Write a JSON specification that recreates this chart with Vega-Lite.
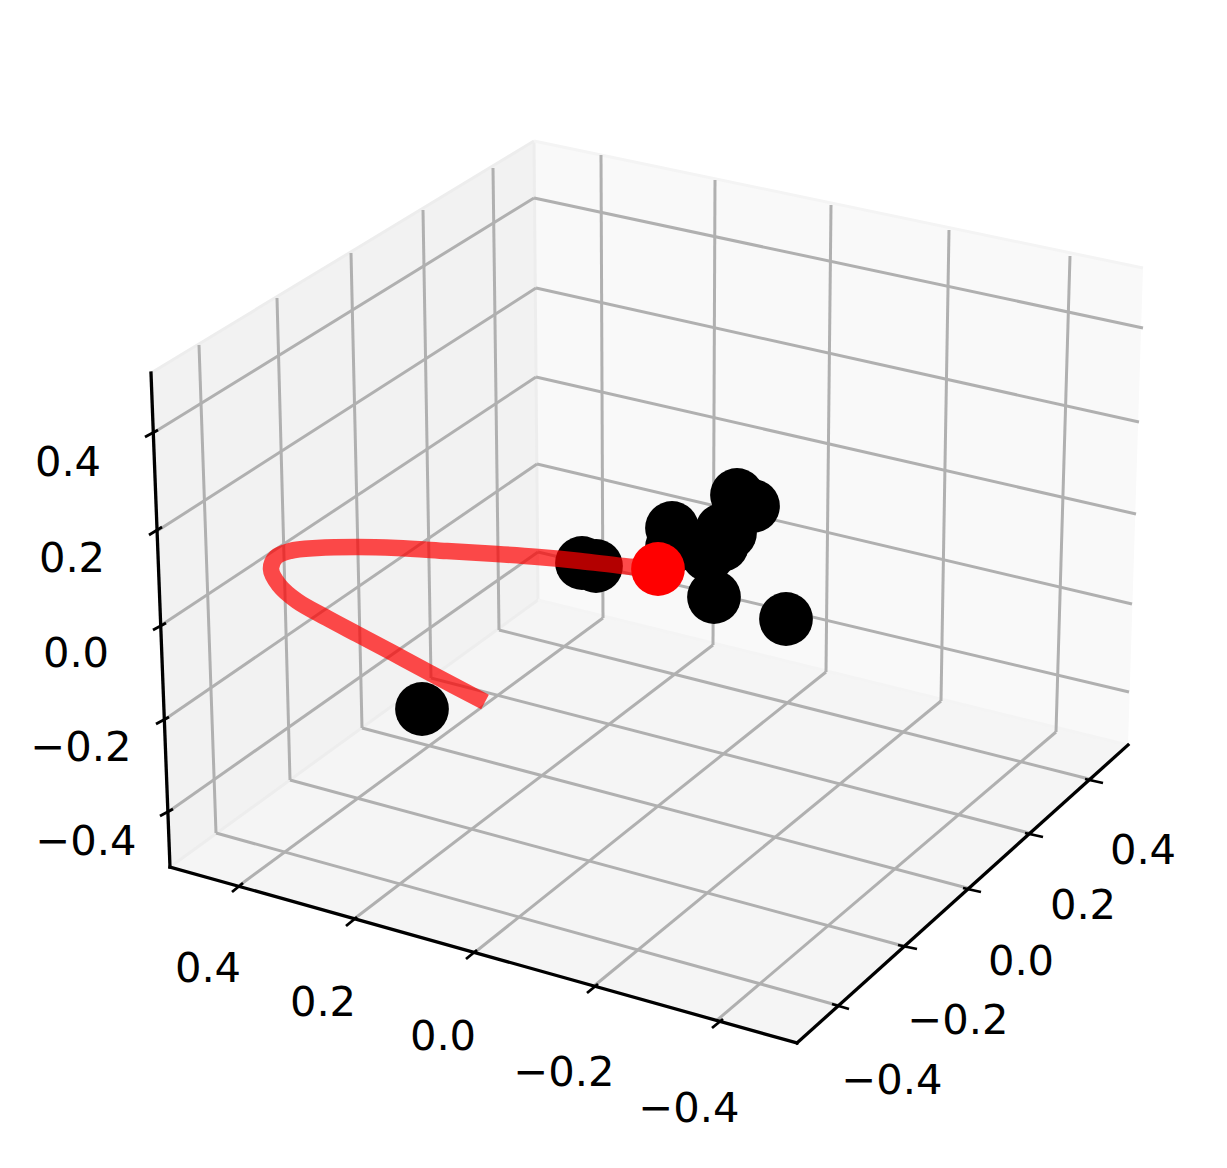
{
"$schema":"https://vega.github.io/schema/vega-lite/v6.json",
"width":1227,"height":1168,"padding":0,
"autosize":{"type":"fit","contains":"padding"},
"background":"white",
"config":{"view":{"stroke":null}},
"datasets":{
"panes":[
{"pane":"left","u":151,"v":373,"v2":373},{"pane":"left","u":170,"v":361.5,"v2":867},{"pane":"left","u":534,"v":141,"v2":602.9},{"pane":"left","u":538,"v":600,"v2":600},
{"pane":"right","u":534,"v":141,"v2":141},{"pane":"right","u":538,"v":141.8,"v2":600},{"pane":"right","u":1128,"v":264.9,"v2":745},{"pane":"right","u":1143,"v":268,"v2":268},
{"pane":"floor","u":170,"v":867,"v2":867},{"pane":"floor","u":538,"v":600,"v2":970.3},{"pane":"floor","u":797,"v":663.7,"v2":1043},{"pane":"floor","u":1128,"v":745,"v2":745}
],
"edges":[
{"u":151,"v":373,"u2":534,"v2":141},{"u":534,"v":141,"u2":538,"v2":600},{"u":170,"v":867,"u2":538,"v2":600}
],
"edgesLight":[
{"u":534,"v":141,"u2":1143,"v2":268},{"u":538,"v":600,"u2":1128,"v2":745}
],
"grid":[
{"u":199,"v":345,"u2":216,"v2":833},{"u":277,"v":298,"u2":290,"v2":780},{"u":351,"v":253,"u2":362,"v2":728},{"u":423,"v":210,"u2":431,"v2":678},{"u":493,"v":168,"u2":499,"v2":630},
{"u":153,"v":433,"u2":534,"v2":198},{"u":157,"v":531,"u2":536,"v2":288},{"u":160,"v":626,"u2":536,"v2":377},{"u":164,"v":720,"u2":537,"v2":464},{"u":168,"v":812,"u2":538,"v2":552},
{"u":534,"v":198,"u2":1143,"v2":328},{"u":536,"v":288,"u2":1139,"v2":422},{"u":536,"v":377,"u2":1136,"v2":514},{"u":537,"v":464,"u2":1132,"v2":604},{"u":538,"v":552,"u2":1129,"v2":692},
{"u":601,"v":155,"u2":603,"v2":618},{"u":715,"v":180,"u2":713,"v2":645},{"u":831,"v":205,"u2":826,"v2":672},{"u":949,"v":230,"u2":941,"v2":701},{"u":1070,"v":256,"u2":1056,"v2":732},
{"u":216,"v":833,"u2":840,"v2":1006},{"u":290,"v":780,"u2":907,"v2":947},{"u":362,"v":728,"u2":971,"v2":889},{"u":431,"v":678,"u2":1033,"v2":834},{"u":499,"v":630,"u2":1093,"v2":780},
{"u":240,"v":885,"u2":603,"v2":618},{"u":354,"v":919,"u2":713,"v2":645},{"u":474,"v":953,"u2":826,"v2":672},{"u":594,"v":986,"u2":941,"v2":701},{"u":716,"v":1021,"u2":1056,"v2":732}
],
"axes":[
{"u":151,"v":373,"u2":170,"v2":867},{"u":170,"v":867,"u2":797,"v2":1043},{"u":797,"v":1043,"u2":1128,"v2":745}
],
"ticks":[
{"u":145,"v":437,"u2":158,"v2":430},{"u":149,"v":535,"u2":162,"v2":527},{"u":153,"v":630,"u2":166,"v2":623},{"u":156,"v":724,"u2":169,"v2":717},{"u":160,"v":816,"u2":173,"v2":809},
{"u":232,"v":892,"u2":243,"v2":883},{"u":346,"v":926,"u2":357,"v2":917},{"u":466,"v":959,"u2":477,"v2":950},{"u":587,"v":993,"u2":598,"v2":984},{"u":712,"v":1028,"u2":723,"v2":1019},
{"u":1085,"v":779,"u2":1103,"v2":783},{"u":1025,"v":833,"u2":1043,"v2":837},{"u":963,"v":888,"u2":981,"v2":892},{"u":898,"v":945,"u2":917,"v2":949},{"u":832,"v":1004,"u2":849,"v2":1009}
],
"labels":[
{"u":68,"v":463,"t":"0.4"},{"u":72,"v":559,"t":"0.2"},{"u":76,"v":654,"t":"0.0"},{"u":81,"v":748,"t":"−0.2"},{"u":86,"v":842,"t":"−0.4"},
{"u":208,"v":969,"t":"0.4"},{"u":323,"v":1003,"t":"0.2"},{"u":443,"v":1037,"t":"0.0"},{"u":564,"v":1073,"t":"−0.2"},{"u":689,"v":1109,"t":"−0.4"},
{"u":1143,"v":851,"t":"0.4"},{"u":1083,"v":906,"t":"0.2"},{"u":1021,"v":962,"t":"0.0"},{"u":958,"v":1021,"t":"−0.2"},{"u":892,"v":1081,"t":"−0.4"}
],
"points":[
{"u":422,"v":709},{"u":582,"v":563},{"u":596,"v":566},{"u":672,"v":528},{"u":672,"v":547},{"u":737,"v":495},{"u":753,"v":506},{"u":722,"v":530},{"u":730,"v":533},{"u":722,"v":545},{"u":708,"v":555},{"u":714,"v":597},{"u":786,"v":619}
],
"path":[
{"i":0,"u":485,"v":702},{"i":1,"u":430,"v":673},{"i":2,"u":393,"v":653},{"i":3,"u":357,"v":634},{"i":4,"u":327,"v":618},{"i":5,"u":297,"v":601},{"i":6,"u":279,"v":585},{"i":7,"u":271,"v":569},{"i":8,"u":276,"v":557},{"i":9,"u":290,"v":551},{"i":10,"u":317,"v":548},{"i":11,"u":357,"v":547},{"i":12,"u":397,"v":548},{"i":13,"u":447,"v":551},{"i":14,"u":497,"v":554},{"i":15,"u":538,"v":557},{"i":16,"u":580,"v":561},{"i":17,"u":623,"v":566},{"i":18,"u":658,"v":569}
],
"head":[{"u":658,"v":569}]
},
"layer":[
{"data":{"name":"panes"},"mark":{"type":"area","interpolate":"linear","opacity":1},
 "encoding":{"x":{"field":"u","type":"quantitative","scale":{"domain":[0,1227],"nice":false,"zero":false},"axis":null},
 "y":{"field":"v","type":"quantitative","scale":{"domain":[1168,0],"nice":false,"zero":false},"axis":null,"stack":null},
 "y2":{"field":"v2"},
 "color":{"field":"pane","type":"nominal","scale":{"domain":["left","right","floor"],"range":["#f2f2f2","#f9f9f9","#f5f5f5"]},"legend":null}}},
{"data":{"name":"edges"},"mark":{"type":"rule","color":"#ededed","strokeWidth":3},
 "encoding":{"x":{"field":"u","type":"quantitative"},"y":{"field":"v","type":"quantitative"},"x2":{"field":"u2"},"y2":{"field":"v2"}}},
{"data":{"name":"edgesLight"},"mark":{"type":"rule","color":"#f4f4f4","strokeWidth":3},
 "encoding":{"x":{"field":"u","type":"quantitative"},"y":{"field":"v","type":"quantitative"},"x2":{"field":"u2"},"y2":{"field":"v2"}}},
{"data":{"name":"grid"},"mark":{"type":"rule","color":"#b0b0b0","strokeWidth":3},
 "encoding":{"x":{"field":"u","type":"quantitative"},"y":{"field":"v","type":"quantitative"},"x2":{"field":"u2"},"y2":{"field":"v2"}}},
{"data":{"name":"axes"},"mark":{"type":"rule","color":"#000000","strokeWidth":3.3,"strokeCap":"square"},
 "encoding":{"x":{"field":"u","type":"quantitative"},"y":{"field":"v","type":"quantitative"},"x2":{"field":"u2"},"y2":{"field":"v2"}}},
{"data":{"name":"ticks"},"mark":{"type":"rule","color":"#000000","strokeWidth":2.8},
 "encoding":{"x":{"field":"u","type":"quantitative"},"y":{"field":"v","type":"quantitative"},"x2":{"field":"u2"},"y2":{"field":"v2"}}},
{"data":{"name":"labels"},"mark":{"type":"text","font":"DejaVu Sans","fontSize":41.67,"color":"#000000","align":"center","baseline":"middle"},
 "encoding":{"x":{"field":"u","type":"quantitative"},"y":{"field":"v","type":"quantitative"},"text":{"field":"t","type":"nominal"}}},
{"data":{"name":"points"},"mark":{"type":"point","filled":true,"shape":"circle","color":"#000000","opacity":1,"size":2890,"strokeWidth":0},
 "encoding":{"x":{"field":"u","type":"quantitative"},"y":{"field":"v","type":"quantitative"}}},
{"data":{"name":"path"},"mark":{"type":"line","color":"#ff0000","strokeOpacity":0.7,"strokeWidth":16.5,"strokeCap":"butt","interpolate":"catmull-rom"},
 "encoding":{"x":{"field":"u","type":"quantitative"},"y":{"field":"v","type":"quantitative"},"order":{"field":"i","type":"quantitative"}}},
{"data":{"name":"head"},"mark":{"type":"point","filled":true,"shape":"circle","color":"#ff0000","opacity":1,"size":2890,"strokeWidth":0},
 "encoding":{"x":{"field":"u","type":"quantitative"},"y":{"field":"v","type":"quantitative"}}}
]
}
